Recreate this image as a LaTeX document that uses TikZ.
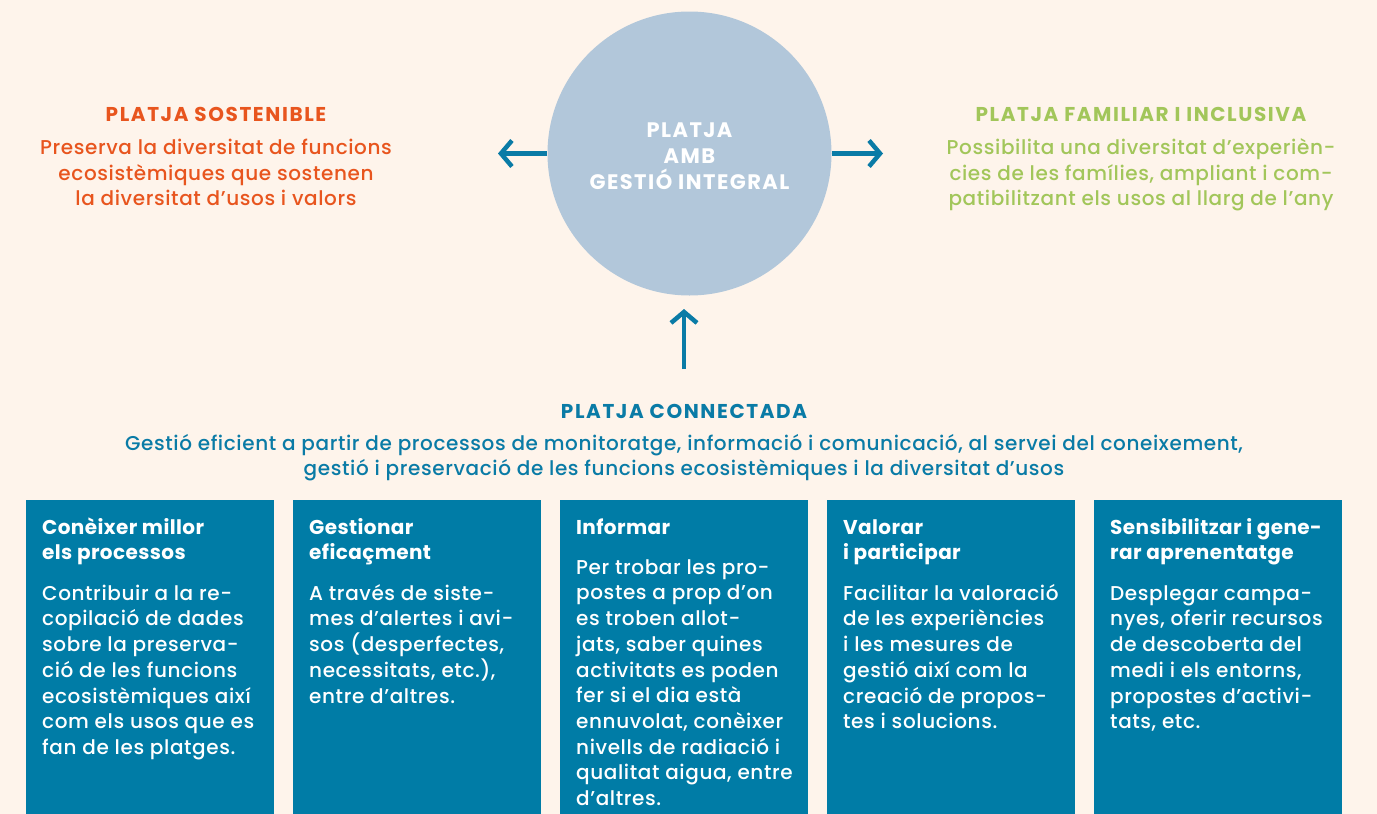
\documentclass[tikz,border=0pt]{standalone}
\usepackage{fontspec}
\IfFontExistsTF{Poppins Medium}
  {\setmainfont{Poppins}[UprightFont={Poppins Medium},BoldFont={Poppins Bold}]}
  {\setmainfont{Poppins}}
\usetikzlibrary{arrows.meta}
\definecolor{bgc}{HTML}{FEF4EB}
\definecolor{circc}{HTML}{B2C7DA}
\definecolor{boxc}{HTML}{007CA6}
\definecolor{bluet}{HTML}{0A7BA6}
\definecolor{orangec}{HTML}{E8551E}
\definecolor{greenc}{HTML}{A2C65A}
\newcommand{\fl}{\rule{0pt}{20pt}}
\newcommand{\bodyf}{\fontsize{20}{25.7}\selectfont\addfontfeatures{LetterSpace=3}}
\newcommand{\capsf}{\fontsize{20}{25.7}\selectfont\bfseries\addfontfeatures{LetterSpace=8}}
\newcommand{\circf}{\fontsize{21}{25.7}\selectfont\bfseries\addfontfeatures{LetterSpace=7}}
\newcommand{\boxtf}{\fontsize{20}{25.7}\selectfont\bfseries\addfontfeatures{LetterSpace=2}}
\begin{document}
\begin{tikzpicture}[x=1pt,y=-1pt,
  txt/.style={inner sep=0pt, font=\bodyf},
  ttl/.style={inner sep=0pt, font=\capsf},
  boxst/.style={fill=boxc, inner sep=0pt, minimum width=248pt, minimum height=330pt, anchor=north west},
  btitle/.style={inner sep=0pt, font=\boxtf, text=white, anchor=north west, align=left},
  bbody/.style={txt, text=white, anchor=north west, align=left},
  arr/.style={draw=bluet, line width=4.5pt, -{Straight Barb[length=11pt,width=26pt,line width=4.5pt]}}
]
\fill[bgc] (0,0) rectangle (1377,814);
\useasboundingbox (0,0) rectangle (1377,814);

% central circle
\node[circle, fill=circc, minimum size=284pt, inner sep=0pt] (circ) at (689.5,153.5) {};
\node[inner sep=0pt, font=\circf, text=white, anchor=north, align=center] (ctext) at (689.5,117.7)
  {\fl PLATJA\\AMB\\GESTIÓ INTEGRAL};

% arrows
\coordinate (tipL) at (498,153.5);
\coordinate (tipR) at (883,153.5);
\coordinate (upS) at (684,369);
\coordinate (upT) at (684,309);
\draw[arr] (circ.west) -- (tipL);
\draw[arr] (circ.east) -- (tipR);
\draw[arr] (upS) -- (upT);

% left block
\node[ttl, text=orangec, anchor=base] (sostT) at (216,121) {PLATJA SOSTENIBLE};
\node[txt, text=orangec, anchor=north, align=center] (sostB) at (216,134.3)
  {\fl Preserva la diversitat de funcions\\ecosistèmiques que sostenen\\la diversitat d’usos i valors};

% right block
\node[ttl, text=greenc, anchor=base] (famT) at (1141,121) {PLATJA FAMILIAR I INCLUSIVA};
\node[txt, text=greenc, anchor=north, align=center] (famB) at (1141,134.3)
  {\fl Possibilita una diversitat d’experièn-\\cies de les famílies, ampliant i com-\\patibilitzant els usos al llarg de l’any};

% bottom block
\node[ttl, text=bluet, anchor=base] (conT) at (684,418) {PLATJA CONNECTADA};
\node[txt, text=bluet, anchor=north, align=center] (conB) at (684,430)
  {\fl Gestió eficient a partir de processos de monitoratge, informació i comunicació, al servei del coneixement,\\gestió i preservació de les funcions ecosistèmiques i la diversitat d’usos};

% boxes
\node[boxst] (b1) at (26,500) {};
\node[boxst] (b2) at (293,500) {};
\node[boxst] (b3) at (560,500) {};
\node[boxst] (b4) at (827,500) {};
\node[boxst] (b5) at (1094,500) {};

\node[btitle] (t1) at (42,514) {\fl Conèixer millor\\els processos};
\node[bbody] (d1) at (42,580) {\fl Contribuir a la re-\\copilació de dades\\sobre la preserva-\\ció de les funcions\\ecosistèmiques així\\com els usos que es\\fan de les platges.};

\node[btitle] (t2) at (309,514) {\fl Gestionar\\eficaçment};
\node[bbody] (d2) at (309,580) {\fl A través de siste-\\mes d’alertes i avi-\\sos (desperfectes,\\necessitats, etc.),\\entre d’altres.};

\node[btitle] (t3) at (576,514) {\fl Informar};
\node[bbody] (d3) at (576,554) {\fl Per trobar les pro-\\postes a prop d’on\\es troben allot-\\jats, saber quines\\activitats es poden\\fer si el dia està\\ennuvolat, conèixer\\nivells de radiació i\\qualitat aigua, entre\\d’altres.};

\node[btitle] (t4) at (843,514) {\fl Valorar\\i participar};
\node[bbody] (d4) at (843,580) {\fl Facilitar la valoració\\de les experiències\\i les mesures de\\gestió així com la\\creació de propos-\\tes i solucions.};

\node[btitle] (t5) at (1110,514) {\fl Sensibilitzar i gene-\\rar aprenentatge};
\node[bbody] (d5) at (1110,580) {\fl Desplegar campa-\\nyes, oferir recursos\\de descoberta del\\medi i els entorns,\\propostes d’activi-\\tats, etc.};
\end{tikzpicture}
\end{document}
